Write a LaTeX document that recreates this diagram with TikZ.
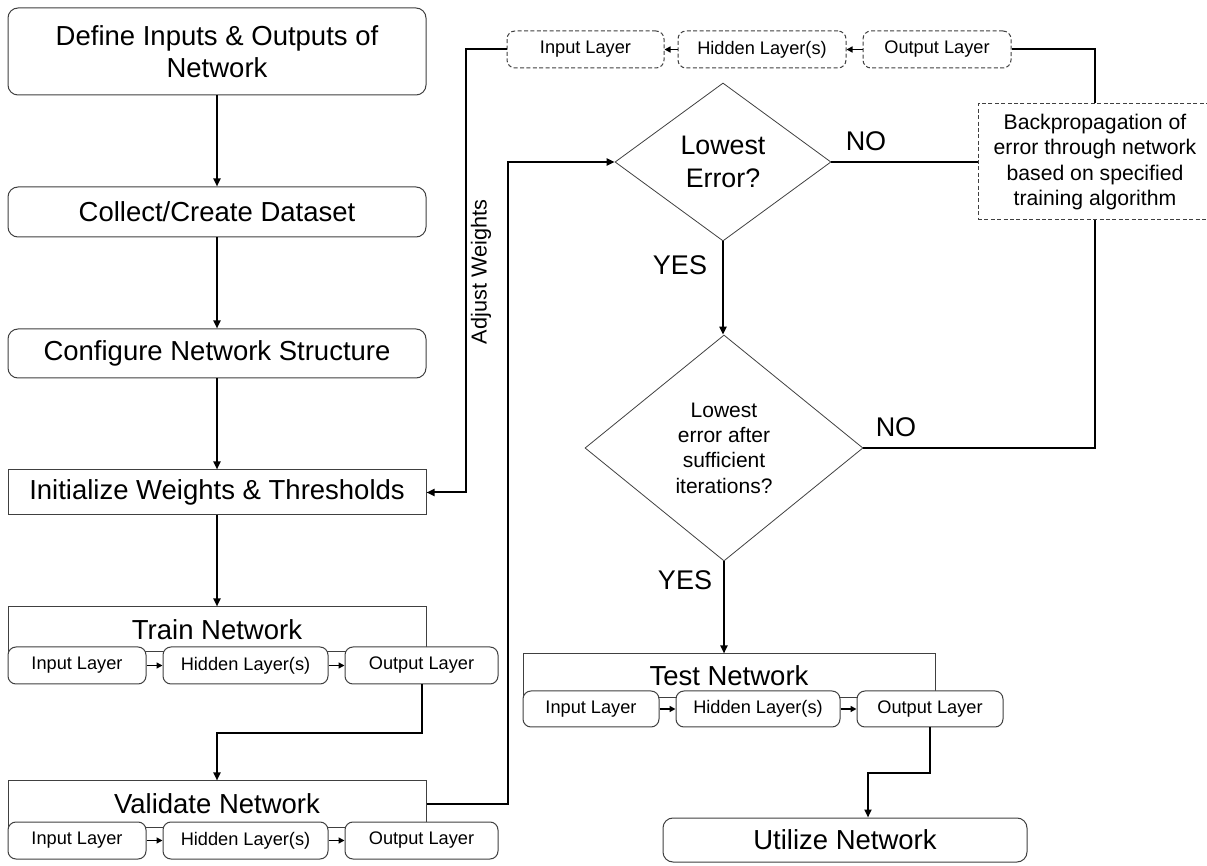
\documentclass[tikz,border=0pt]{standalone}
\usepackage{fontspec}
\setmainfont{Liberation Sans}
\usetikzlibrary{shapes.geometric,arrows.meta}
\tikzset{
    box/.style={draw=black!75, line width=0.5pt, rounded corners=5pt, fill=white, inner sep=0pt, minimum width=209pt, align=center, font=\fontsize{13.75}{16}\selectfont},
    plainbox/.style={box, rounded corners=0pt},
    stage/.style={draw=black!75, line width=0.5pt, inner sep=0pt, font=\fontsize{13.75}{16}\selectfont},
    layer/.style={draw=black!75, line width=0.5pt, rounded corners=4pt, fill=white, inner sep=0pt, minimum height=18.5pt, font=\fontsize{9.1}{11}\selectfont},
    dlayer/.style={layer, dash pattern=on 2pt off 1.2pt},
    decision/.style={diamond, draw=black!75, line width=0.4pt, inner sep=0pt, align=center},
    conn/.style={draw, line width=1pt, -{Triangle[length=4pt,width=3.5pt]}},
    link/.style={draw, line width=1pt},
    small/.style={draw, line width=0.8pt, -{Triangle[length=3pt,width=3pt]}},
    answer/.style={font=\fontsize{13.5}{16}\selectfont, inner sep=0pt}
}
\begin{document}
\begin{tikzpicture}[x=0.5pt, y=-0.5pt]
\useasboundingbox (0,0) rectangle (1207,866);

% left column
\node[box, minimum height=43.5pt] (define) at (217,51.5) {Define Inputs \& Outputs of\\Network};
\node[box, minimum height=25pt] (collect) at (217,212) {Collect/Create Dataset};
\node[box, minimum height=24.5pt] (config) at (217,353.5) {Configure Network Structure};
\node[plainbox, minimum height=22.5pt] (init) at (217,492.5) {Initialize Weights \& Thresholds};

% train
\node[stage, minimum width=209pt, minimum height=22.5pt] (train) at (217,629.5) {Train Network};
\node[layer, minimum width=69pt] (tIn) at (77,665.5) {Input Layer};
\node[layer, minimum width=82.5pt] (tHid) at (245.5,665.5) {Hidden Layer(s)};
\node[layer, minimum width=76.5pt] (tOut) at (421.5,665.5) {Output Layer};

% validate
\node[stage, minimum width=209pt, minimum height=23pt] (valid) at (217,804) {Validate Network};
\node[layer, minimum width=69pt] (vIn) at (77,840.5) {Input Layer};
\node[layer, minimum width=82.5pt] (vHid) at (245.5,840.5) {Hidden Layer(s)};
\node[layer, minimum width=76.5pt] (vOut) at (421.5,840.5) {Output Layer};

% backpropagation loop
\node[dlayer, minimum width=78.5pt] (dIn) at (585.5,49.5) {Input Layer};
\node[dlayer, minimum width=84pt] (dHid) at (762,49.5) {Hidden Layer(s)};
\node[dlayer, minimum width=74pt] (dOut) at (937,49.5) {Output Layer};
\node[draw=black!75, line width=0.5pt, dash pattern=on 2pt off 1.2pt, minimum width=117pt, minimum height=58pt, inner sep=0pt, align=center, font=\fontsize{10.6}{12.75}\selectfont] (bp) at (1095,162) {Backpropagation of\\error through network\\based on specified\\training algorithm};

% decisions
\node[decision, minimum width=108pt, minimum height=79pt, font=\fontsize{13.4}{16.5}\selectfont] (err1) at (723,162) {Lowest\\Error?};
\node[decision, minimum width=139pt, minimum height=113pt, font=\fontsize{10.5}{12.7}\selectfont] (err2) at (724,448) {Lowest\\error after\\sufficient\\iterations?};

% test
\node[stage, minimum width=206pt, minimum height=22pt] (test) at (729,676) {Test Network};
\node[layer, minimum width=68pt, minimum height=18pt] (sIn) at (591,709) {Input Layer};
\node[layer, minimum width=82pt, minimum height=18pt] (sHid) at (758,709) {Hidden Layer(s)};
\node[layer, minimum width=73pt, minimum height=18pt] (sOut) at (930,709) {Output Layer};
\node[box, minimum width=182pt, minimum height=22pt] (util) at (845,840) {Utilize Network};

% labels
\node[answer] (yes1) at (680,265) {YES};
\node[answer] (no1) at (866,141) {NO};
\node[answer] (no2) at (896,427) {NO};
\node[answer] (yes2) at (685,580) {YES};
\node[rotate=90, inner sep=0pt, font=\fontsize{10.85}{13}\selectfont] (adj) at (481,272) {Adjust Weights};

% connectors
\draw[conn] (define) -- (collect);
\draw[conn] (collect) -- (config);
\draw[conn] (config) -- (init);
\draw[conn] (init) -- (train);
\draw[small] (tIn) -- (tHid);
\draw[small] (tHid) -- (tOut);
\draw[conn] (tOut.south) -- ++(0,49) -| (valid.north);
\draw[small] (vIn) -- (vHid);
\draw[small] (vHid) -- (vOut);
\draw[conn] (valid.east) -- ++(81,0) |- (err1.west);
\draw[conn] (err1.south) -- (err1.south |- err2.north);
\draw[link] (err1.east) -- (bp.west);
\draw[link] (err2.east) -| (bp.south);
\draw[link] (bp.north) |- (dOut.east);
\draw[small] (dOut) -- (dHid);
\draw[small] (dHid) -- (dIn);
\draw[conn] (dIn.west) -- ++(-41,0) |- (init.east);
\draw[conn] (err2.south) -- (err2.south |- test.north);
\draw[small] (sIn) -- (sHid);
\draw[small] (sHid) -- (sOut);
\draw[conn] (sOut.south) -- ++(0,46) -| ([xshift=11.5pt]util.north);

\end{tikzpicture}
\end{document}
